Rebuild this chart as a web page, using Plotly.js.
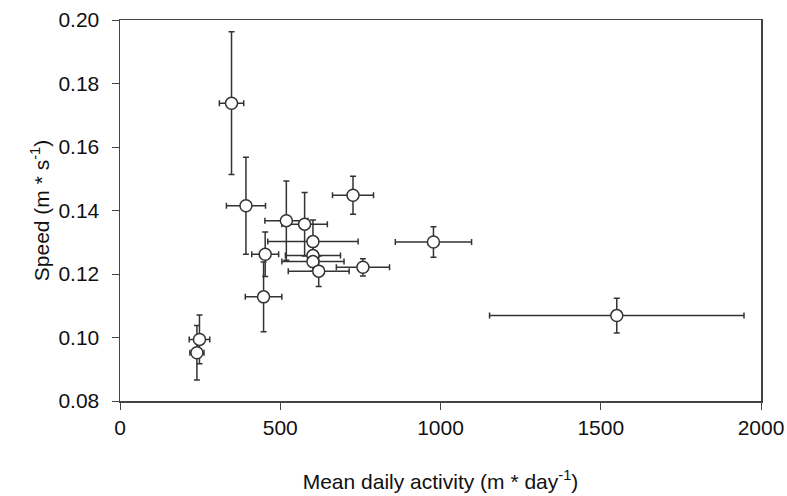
<!DOCTYPE html>
<html>
<head>
<meta charset="utf-8">
<script src="https://cdn.plot.ly/plotly-3.0.1.min.js"></script>
<style>html,body{margin:0;padding:0;background:#fff;}#chart{width:787px;height:496px;}</style>
</head>
<body>
<div id="chart"></div>
<script>
// Mean daily activity (m/day), speed (m/s) and their error bars
const activity    = [348, 393, 519, 576, 602, 602, 602, 620, 758, 453, 448, 248, 240, 978, 1550, 727];
const activityErr = [38, 61, 67, 71, 141, 86, 97, 95, 83, 42, 57, 32, 22, 119, 397, 64];
const speed       = [0.1738, 0.1415, 0.1368, 0.1357, 0.1302, 0.1258, 0.1239, 0.1209, 0.1221, 0.1262, 0.1128, 0.0994, 0.0952, 0.1301, 0.1069, 0.1448];
const speedErr    = [0.0225, 0.0153, 0.0125, 0.0100, 0.0068, 0.0030, 0.0030, 0.0048, 0.0027, 0.0070, 0.0110, 0.0077, 0.0086, 0.0048, 0.0055, 0.0060];
const xTicks = [0, 500, 1000, 1500, 2000];
const yTicks = [0.08, 0.10, 0.12, 0.14, 0.16, 0.18, 0.20];

const trace = {
  type: 'scatter', mode: 'markers',
  x: activity, y: speed,
  error_x: {type: 'data', array: activityErr, visible: true, color: '#333', thickness: 1.5, width: 3},
  error_y: {type: 'data', array: speedErr, visible: true, color: '#333', thickness: 1.5, width: 3},
  marker: {symbol: 'circle', size: 12, color: '#fff', line: {color: '#333', width: 1.5}},
  hoverinfo: 'none',
  cliponaxis: false
};

const FAM = 'Liberation Sans';
const layout = {
  width: 787, height: 496,
  margin: {l: 120, r: 26, t: 20, b: 95},
  paper_bgcolor: '#fff', plot_bgcolor: '#fff',
  showlegend: false,
  font: {family: FAM, size: 21, color: '#111'},
  xaxis: {
    range: [0, 2000], tickvals: xTicks, ticktext: xTicks.map(String),
    showgrid: false, zeroline: false, showline: true, mirror: true,
    linecolor: '#444', linewidth: 1.5, ticks: 'outside', ticklen: 7, tickcolor: '#444',
    tickfont: {family: FAM, size: 21, color: '#111'},
    title: {text: 'Mean daily activity (m * day<sup>-1</sup>)', font: {family: FAM, size: 21, color: '#111'}, standoff: 36}
  },
  yaxis: {
    range: [0.08, 0.20], tickvals: yTicks, ticktext: yTicks.map(v => v.toFixed(2)),
    showgrid: false, zeroline: false, showline: true, mirror: true,
    linecolor: '#444', linewidth: 1.5, ticks: 'outside', ticklen: 7, tickcolor: '#444',
    ticklabelstandoff: 8,
    tickfont: {family: FAM, size: 21, color: '#111'},
    title: {text: 'Speed (m * s<sup>-1</sup>)', font: {family: FAM, size: 21, color: '#111'}, standoff: 3}
  }
};
Plotly.newPlot('chart', [trace], layout, {displayModeBar: false, staticPlot: true});
</script>
</body>
</html>
